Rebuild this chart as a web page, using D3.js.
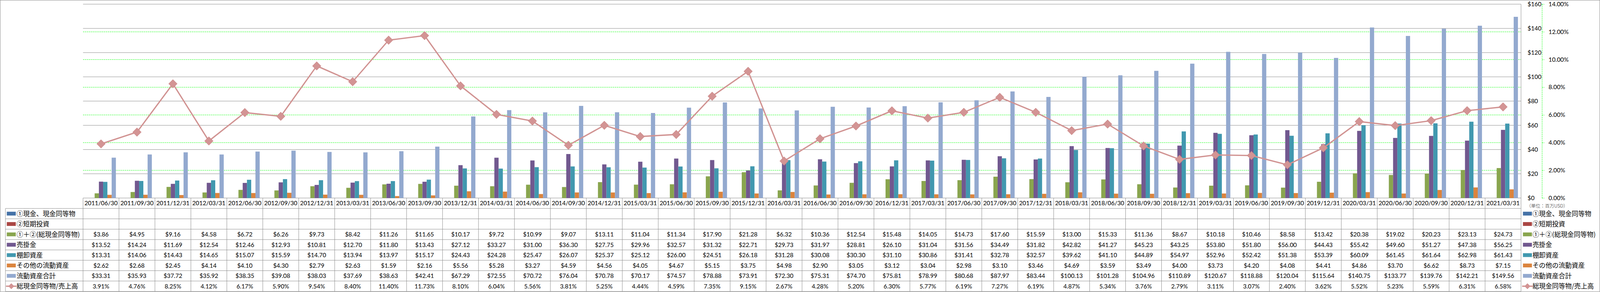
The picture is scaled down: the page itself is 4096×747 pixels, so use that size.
<!DOCTYPE html>
<html><head><meta charset="utf-8">
<script src="https://cdn.jsdelivr.net/npm/d3@7"></script>
<style>html,body{margin:0;padding:0;background:#fff;overflow:hidden}</style>
</head><body>
<svg id="chart" width="4096" height="747" xmlns="http://www.w3.org/2000/svg"></svg>
<script>
// ---------------- data ----------------
const categories = ["2011/06/30","2011/09/30","2011/12/31","2012/03/31","2012/06/30","2012/09/30","2012/12/31","2013/03/31","2013/06/30","2013/09/30","2013/12/31","2014/03/31","2014/06/30","2014/09/30","2014/12/31","2015/03/31","2015/06/30","2015/09/30","2015/12/31","2016/03/31","2016/06/30","2016/09/30","2016/12/31","2017/03/31","2017/06/30","2017/09/30","2017/12/31","2018/03/31","2018/06/30","2018/09/30","2018/12/31","2019/03/31","2019/06/30","2019/09/30","2019/12/31","2020/03/31","2020/06/30","2020/09/30","2020/12/31","2021/03/31"];
const cashEquivalents = [];   // ① (no values shown)
const shortTermInvest = [];   // ② (no values shown)
const totalCash = [3.86,4.95,9.16,4.58,6.72,6.26,9.73,8.42,11.26,11.65,10.17,9.72,10.99,9.07,13.11,11.04,11.34,17.90,21.28,6.32,10.36,12.54,15.48,14.05,14.73,17.60,15.59,13.00,15.33,11.36,8.67,10.18,10.46,8.58,13.42,20.38,19.02,20.23,23.13,24.73];
const receivables = [13.52,14.24,11.69,12.54,12.46,12.93,10.81,12.70,11.80,13.43,27.12,33.27,31.00,36.30,27.75,29.96,32.57,31.32,22.71,29.73,31.97,28.81,26.10,31.04,31.56,34.49,31.82,42.82,41.27,45.23,43.25,53.80,51.80,56.00,44.43,55.42,49.60,51.27,47.38,56.25];
const inventory = [13.31,14.06,14.43,14.65,15.07,15.59,14.70,13.94,13.97,15.17,24.43,24.28,25.47,26.07,25.37,25.12,26.00,24.51,26.18,31.28,30.08,30.30,31.10,30.86,31.41,32.78,32.57,39.62,41.10,44.89,54.97,52.96,52.42,51.38,53.39,60.09,61.45,61.64,62.98,61.43];
const otherCurrent = [2.62,2.68,2.45,4.14,4.10,4.30,2.79,2.63,1.59,2.16,5.56,5.28,3.27,4.59,4.56,4.05,4.67,5.15,3.75,4.98,2.90,3.05,3.12,3.04,2.98,3.10,3.46,4.69,3.59,3.49,4.00,3.73,4.20,4.08,4.41,4.86,3.70,6.62,8.73,7.15];
const totalCurrent = [33.31,35.93,37.72,35.92,38.35,39.08,38.03,37.69,38.63,42.41,67.29,72.55,70.72,76.04,70.78,70.17,74.57,78.88,73.91,72.30,75.31,74.70,75.81,78.99,80.68,87.97,83.44,100.13,101.28,104.96,110.89,120.67,118.88,120.04,115.64,140.75,133.77,139.76,142.21,149.56];
const cashToSales = [3.91,4.76,8.25,4.12,6.17,5.90,9.54,8.40,11.40,11.73,8.10,6.04,5.56,3.81,5.25,4.44,4.59,7.35,9.15,2.67,4.28,5.20,6.30,5.77,6.19,7.27,6.19,4.87,5.34,3.76,2.79,3.11,3.07,2.40,3.62,5.52,5.23,5.59,6.31,6.58];

const seriesNames = ["①現金、現金同等物","②短期投資","①＋②(総現金同等物)","売掛金","棚卸資産","その他の流動資産","流動資産合計","総現金同等物/売上高"];
const seriesColors = ["#4572A7","#AA4643","#89A54E","#71588F","#4198AF","#DB843D","#93A9CF","#D19392"];
const dollarTicks = [0,20,40,60,80,100,120,140,160];
const pctTicks = [0,2,4,6,8,10,12,14];
const unitLabel = "（単位：百万USD）";

// ---------------- layout (reference pixel units) ----------------
const K = 4096/5876;
const L = {W:5876, H:1071, plotL:305, plotR:5586, plotT:15.3, plotB:726.7,
           tableL:20, dateRowB:765, rowH:38.05,
           dollarX:5610, pctAxisX:5663, legX:5593};
const gridGray = "#8a8a8a";
const numFont = "Lato, 'Noto Sans CJK JP', sans-serif";
const cjkFont = "'Noto Sans CJK JP', sans-serif";

const barSeries = [cashEquivalents, shortTermInvest, totalCash, receivables, inventory, otherCurrent, totalCurrent];
const barKeys = seriesNames.slice(0,7);

const svg = d3.select("#chart");
const root = svg.append("g").attr("transform", `scale(${K})`);

const x = d3.scaleBand().domain(categories).range([L.plotL, L.plotR]).paddingInner(0).paddingOuter(0);
const x1 = d3.scaleBand().domain(barKeys).range([0, x.bandwidth()]).paddingInner(0).paddingOuter(0.73);
const y = d3.scaleLinear().domain([0,160]).range([L.plotB, L.plotT]);
const y2 = d3.scaleLinear().domain([0,14]).range([L.plotB, L.plotT]);

// outer border
root.append("rect").attr("x",0.7).attr("y",0.7).attr("width",L.W-1.4).attr("height",L.H-1.4)
  .attr("fill","#fff").attr("stroke","#8c8c8c").attr("stroke-width",1.4);

// secondary (green dashed) gridlines
root.append("g").selectAll("line").data(pctTicks.filter(d=>d>0 && d<14)).join("line")
  .attr("x1",L.plotL).attr("x2",L.plotR).attr("y1",d=>y2(d)).attr("y2",d=>y2(d))
  .attr("stroke","#00ff00").attr("stroke-width",1.4).attr("stroke-dasharray","4.5,2.5");

// primary gray gridlines
root.append("g").selectAll("line").data(dollarTicks).join("line")
  .attr("x1",L.plotL).attr("x2",L.plotR).attr("y1",d=>y(d)).attr("y2",d=>y(d))
  .attr("stroke",gridGray).attr("stroke-width",1.4);

// right plot border
root.append("line").attr("x1",L.plotR).attr("x2",L.plotR).attr("y1",L.plotT).attr("y2",L.plotB)
  .attr("stroke",gridGray).attr("stroke-width",1.4);

// bars
barSeries.forEach((arr, j) => {
  const pts = categories.map((c,i)=>({c, v: arr[i]})).filter(d => d.v != null);
  root.append("g").selectAll("rect").data(pts).join("rect")
    .attr("x", d => x(d.c) + x1(barKeys[j]))
    .attr("width", x1.bandwidth())
    .attr("y", d => y(d.v))
    .attr("height", d => y(0) - y(d.v))
    .attr("fill", seriesColors[j]);
});

// line + markers
const lineColor = seriesColors[7];
const linePts = categories.map((c,i)=>({c, v: cashToSales[i]}));
root.append("path").datum(linePts)
  .attr("d", d3.line().x(d => x(d.c) + x.bandwidth()/2).y(d => y2(d.v)))
  .attr("fill","none").attr("stroke",lineColor).attr("stroke-width",4.8).attr("stroke-linejoin","round");
const diamond = d3.symbol(d3.symbolSquare, 470);
root.append("g").selectAll("path").data(linePts).join("path")
  .attr("d", diamond)
  .attr("transform", d => `translate(${x(d.c) + x.bandwidth()/2},${y2(d.v)}) rotate(45)`)
  .attr("fill","#d39494").attr("stroke","#cc8a8a").attr("stroke-width",1.5);

// $ axis labels (right side)
const ay = root.append("g").attr("transform",`translate(${L.dollarX},0)`)
  .call(d3.axisRight(y).tickValues(dollarTicks).tickFormat(d=>"$"+d).tickSize(0).tickPadding(0));
ay.select(".domain").remove();
ay.selectAll("text").attr("font-family",numFont).attr("font-size",22).attr("fill","#000");

// % axis (green dashed axis line, ticks)
const ap = root.append("g").attr("transform",`translate(${L.pctAxisX},0)`)
  .call(d3.axisRight(y2).tickValues(pctTicks).tickFormat(d=>d.toFixed(2)+"%").tickSize(9).tickSizeOuter(0).tickPadding(15));
ap.select(".domain").attr("stroke","#00ff00").attr("stroke-width",1.4).attr("stroke-dasharray","4.5,2.5");
ap.selectAll(".tick line").attr("stroke","#00ff00").attr("stroke-width",1.4).attr("stroke-dasharray","4.5,2.5");
ap.selectAll("text").attr("font-family",numFont).attr("font-size",22).attr("fill","#000");

// unit label
root.append("text").attr("x",5606).attr("y",756).attr("dy","0.35em")
  .attr("font-family",cjkFont).attr("font-weight",300).attr("font-size",17).attr("fill","#222")
  .text(unitLabel);

// ---------------- data table ----------------
const tableB = L.dateRowB + L.rowH*seriesNames.length;
const tg = root.append("g");
// horizontal row lines
const rowLines = d3.range(seriesNames.length+1).map(i => L.dateRowB + i*L.rowH);
tg.selectAll("line.h").data(rowLines).join("line").attr("class","h")
  .attr("x1",L.tableL).attr("x2",L.plotR).attr("y1",d=>d).attr("y2",d=>d)
  .attr("stroke",gridGray).attr("stroke-width",1.4);
// vertical column lines
const colEdges = categories.map(c => x(c)).concat([L.plotR]);
tg.selectAll("line.v").data(colEdges).join("line").attr("class","v")
  .attr("x1",d=>d).attr("x2",d=>d).attr("y1",L.plotB).attr("y2",tableB)
  .attr("stroke",gridGray).attr("stroke-width",1.4);
tg.append("line").attr("x1",L.tableL).attr("x2",L.tableL).attr("y1",L.dateRowB).attr("y2",tableB)
  .attr("stroke",gridGray).attr("stroke-width",1.4);

// date row
tg.selectAll("text.date").data(categories).join("text").attr("class","date")
  .attr("x", d => x(d) + x.bandwidth()/2).attr("y",(L.plotB+L.dateRowB)/2).attr("dy","0.36em")
  .attr("text-anchor","middle").attr("font-family",numFont).attr("font-size",22).attr("fill","#000")
  .text(d=>d);

// value rows
const rowData = [cashEquivalents, shortTermInvest, totalCash, receivables, inventory, otherCurrent, totalCurrent, cashToSales];
rowData.forEach((arr, r) => {
  const cy = L.dateRowB + r*L.rowH + L.rowH/2;
  const isPct = r === 7;
  const cells = categories.map((c,i)=>({c, v: arr[i]})).filter(d => d.v != null);
  tg.append("g").selectAll("text").data(cells).join("text")
    .attr("x", d => x(d.c) + x.bandwidth()/2).attr("y", cy).attr("dy","0.36em")
    .attr("text-anchor","middle").attr("font-family",numFont).attr("font-size",22).attr("fill","#000")
    .text(d => isPct ? d.v.toFixed(2)+"%" : "$"+d.v.toFixed(2));
});

// legend keys: left (table row headers) and right
function drawKey(g, r, sx, tx) {
  const cy = L.dateRowB + r*L.rowH + L.rowH/2;
  if (r < 7) {
    g.append("rect").attr("x",sx).attr("y",cy-7).attr("width",33).attr("height",14).attr("fill",seriesColors[r]);
  } else {
    g.append("line").attr("x1",sx-3).attr("x2",sx+36).attr("y1",cy).attr("y2",cy)
      .attr("stroke",lineColor).attr("stroke-width",4.8);
    g.append("path").attr("d", d3.symbol(d3.symbolSquare, 200))
      .attr("transform",`translate(${sx+16.5},${cy}) rotate(45)`)
      .attr("fill","#d39494").attr("stroke","#cc8a8a").attr("stroke-width",1.2);
  }
  g.append("text").attr("x",tx).attr("y",cy).attr("dy","0.36em")
    .attr("font-family",cjkFont).attr("font-size",24).attr("fill","#000").text(seriesNames[r]);
}
const lg = root.append("g");
seriesNames.forEach((n, r) => {
  drawKey(lg, r, 25, 61);
  drawKey(lg, r, L.legX, 5628);
});
</script>
</body></html>
